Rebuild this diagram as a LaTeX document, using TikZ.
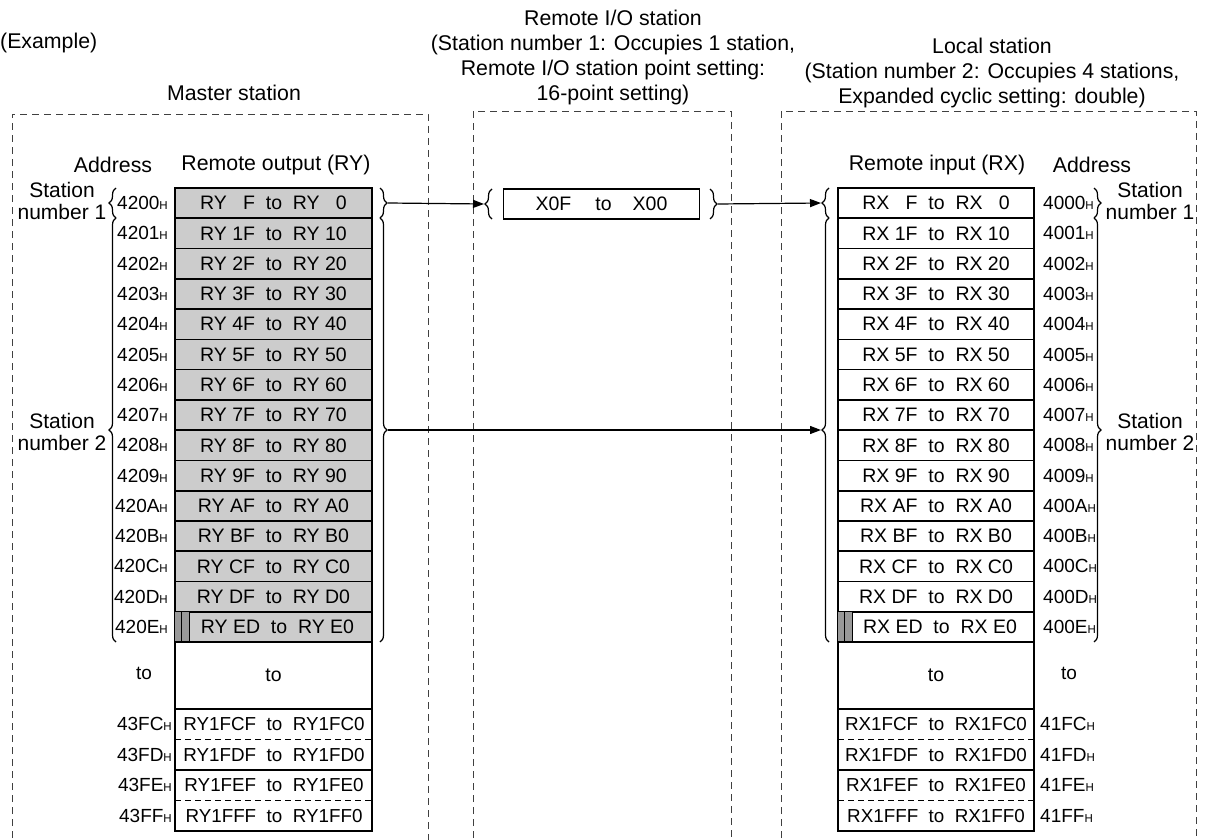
\documentclass[tikz,border=0pt]{standalone}
\usepackage{fontspec}
\setmainfont{Liberation Sans}
\usetikzlibrary{arrows.meta,decorations.pathreplacing}

\newcommand{\hx}[1]{#1{\fontsize{11.5}{11.5}\selectfont H}}

\begin{document}
\begin{tikzpicture}[x=1pt, y=-1pt,
  every node/.style={inner sep=0pt},
  title/.style={align=center, font=\fontsize{21.3}{25}\selectfont},
  head/.style={font=\fontsize{21.3}{22}\selectfont},
  stn/.style={align=center, font=\fontsize{21}{22}\selectfont},
  cellY/.style={draw, line width=1.6pt, fill=gray!40, minimum width=197pt, minimum height=30.27pt, font=\fontsize{19.5}{19.5}\selectfont},
  cellX/.style={cellY, fill=white, minimum width=196pt},
  celltxt/.style={font=\fontsize{18.8}{18.8}\selectfont},
  addr/.style={font=\fontsize{19}{19}\selectfont},
  stripe/.style={draw, line width=1pt, fill=gray!80},
  dashbox/.style={draw=black!75, line width=0.8pt, dash pattern=on 7pt off 5pt},
  brc/.style={decorate, decoration={brace, amplitude=7pt}, line width=1.2pt},
  link/.style={line width=1.2pt, -{Triangle[length=11pt, width=8pt]}}]

  \useasboundingbox (0,0) rectangle (1205,840);

  \node[title, anchor=west] (ex) at (0,43) {(Example)};
  \node[title] (tmaster) at (234,93) {Master station};
  \node[title] (tremio) at (613,57.5) {Remote I/O station\\(Station number 1: Occupies 1 station,\\Remote I/O station point setting:\\16-point setting)};
  \node[title] (tlocal) at (992,73) {Local station\\(Station number 2: Occupies 4 stations,\\Expanded cyclic setting: double)};

  \draw[dashbox] (12,850) -- (12,114) -- (428,114) -- (428,850);
  \draw[dashbox] (473,850) -- (473,111) -- (731,111) -- (731,850);
  \draw[dashbox] (781,850) -- (781,111) -- (1196,111) -- (1196,850);

  \node[head] (hay) at (113,165) {Address};
  \node[head] (hry) at (276,165) {Remote output (RY)};
  \node[head] (hrx) at (937,165) {Remote input (RX)};
  \node[head] (hax) at (1092,165) {Address};

  % first row
  \node[cellY] (ry0) at (273.5,203.1) {RY \phantom{1}F\ \ to\ \ RY \phantom{1}0};
  \node[addr, anchor=east] (ay0) at (168,203.1) {\hx{4200}};
  \node[cellX] (rx0) at (936,203.1) {RX \phantom{1}F\ \ to\ \ RX \phantom{1}0};
  \node[addr, anchor=west] (ax0) at (1043,203.1) {\hx{4000}};

  \foreach \d [count=\n] in {1,...,9,A,B,C,D} {
    \node[cellY] (ry\n) at (273.5,{188+(\n+0.5)*30.27}) {RY \d F\ \ to\ \ RY \d 0};
    \node[addr, anchor=east] (ay\n) at (168,{188+(\n+0.5)*30.27}) {\hx{420\d}};
    \node[cellX] (rx\n) at (936,{188+(\n+0.5)*30.27}) {RX \d F\ \ to\ \ RX \d 0};
    \node[addr, anchor=west] (ax\n) at (1043,{188+(\n+0.5)*30.27}) {\hx{400\d}};
  }

  % last row with bit marks
  \node[cellY] (ry14) at (273.5,627.2) {\hspace{8pt}RY ED\ \ to\ \ RY E0};
  \node[addr, anchor=east] (ay14) at (168,627.2) {\hx{420E}};
  \draw[stripe] (ry14.north west) rectangle +(7.5,30.27);
  \draw[stripe] ([xshift=7.5pt]ry14.north west) rectangle +(7.5,30.27);
  \node[cellX] (rx14) at (936,627.2) {\hspace{8pt}RX ED\ \ to\ \ RX E0};
  \node[addr, anchor=west] (ax14) at (1043,627.2) {\hx{400E}};
  \draw[stripe] (rx14.north west) rectangle +(7.5,30.27);
  \draw[stripe] ([xshift=7.5pt]rx14.north west) rectangle +(7.5,30.27);

  \node[cellX, minimum width=197pt, minimum height=67pt] (ryto) at (273.5,675.5) {to};
  \node[addr] (ayto) at (144,673) {to};
  \node[cellX, minimum height=67pt] (rxto) at (936,675.5) {to};
  \node[addr] (axto) at (1069,673) {to};

  \draw[line width=1.6pt] (175,709) rectangle (372,831);
  \draw[line width=1.6pt] (175,770) -- (372,770);
  \draw[line width=0.9pt, dash pattern=on 6pt off 4pt] (175,739.5) -- (372,739.5) (175,800.5) -- (372,800.5);
  \draw[line width=1.6pt] (838,709) rectangle (1034,831);
  \draw[line width=1.6pt] (838,770) -- (1034,770);
  \draw[line width=0.9pt, dash pattern=on 6pt off 4pt] (838,739.5) -- (1034,739.5) (838,800.5) -- (1034,800.5);

  \node[celltxt] (ryFC) at (274,724.3) {RY1FCF\ \ to\ \ RY1FC0};
  \node[celltxt] (ryFD) at (274,754.8) {RY1FDF\ \ to\ \ RY1FD0};
  \node[celltxt] (ryFE) at (274,785.3) {RY1FEF\ \ to\ \ RY1FE0};
  \node[celltxt] (ryFF) at (274,815.8) {RY1FFF\ \ to\ \ RY1FF0};
  \node[addr, anchor=east] (ayFC) at (172,724.3) {\hx{43FC}};
  \node[addr, anchor=east] (ayFD) at (172,754.8) {\hx{43FD}};
  \node[addr, anchor=east] (ayFE) at (172,785.3) {\hx{43FE}};
  \node[addr, anchor=east] (ayFF) at (172,815.8) {\hx{43FF}};
  \node[celltxt] (rxFC) at (936,724.3) {RX1FCF\ \ to\ \ RX1FC0};
  \node[celltxt] (rxFD) at (936,754.8) {RX1FDF\ \ to\ \ RX1FD0};
  \node[celltxt] (rxFE) at (936,785.3) {RX1FEF\ \ to\ \ RX1FE0};
  \node[celltxt] (rxFF) at (936,815.8) {RX1FFF\ \ to\ \ RX1FF0};
  \node[addr, anchor=west] (axFC) at (1040,724.3) {\hx{41FC}};
  \node[addr, anchor=west] (axFD) at (1040,754.8) {\hx{41FD}};
  \node[addr, anchor=west] (axFE) at (1040,785.3) {\hx{41FE}};
  \node[addr, anchor=west] (axFF) at (1040,815.8) {\hx{41FF}};

  % remote I/O
  \node[cellX] (rio) at (601.5,204) {X0F\hspace{24pt}to\hspace{21pt}X00};

  % braces
  \draw[brc] (116,218) -- (116,188);
  \draw[brc] (116,642) -- (116,218);
  \draw[brc] (380,188) -- (380,218);
  \draw[brc] (380,218) -- (380,642);
  \draw[brc] (492,219) -- (492,189);
  \draw[brc] (710,189) -- (710,219);
  \draw[brc] (829,218) -- (829,188);
  \draw[brc] (829,642) -- (829,218);
  \draw[brc] (1094,188) -- (1094,218);
  \draw[brc] (1094,218) -- (1094,642);

  \node[stn] (sm1) at (62,201) {Station\\number 1};
  \node[stn] (sm2) at (62,432) {Station\\number 2};
  \node[stn] (sl1) at (1150,201) {Station\\number 1};
  \node[stn] (sl2) at (1150,432) {Station\\number 2};

  \coordinate (mR1) at (388,203);
  \coordinate (ioL) at (484,204);
  \coordinate (ioR) at (718,204);
  \coordinate (lL1) at (821,203);
  \coordinate (mR2) at (388,430);
  \coordinate (lL2) at (821,430);

  \draw[link] (mR1) -- (ioL);
  \draw[link] (ioR) -- (lL1);
  \draw[link] (mR2) -- (lL2);
\end{tikzpicture}
\end{document}
